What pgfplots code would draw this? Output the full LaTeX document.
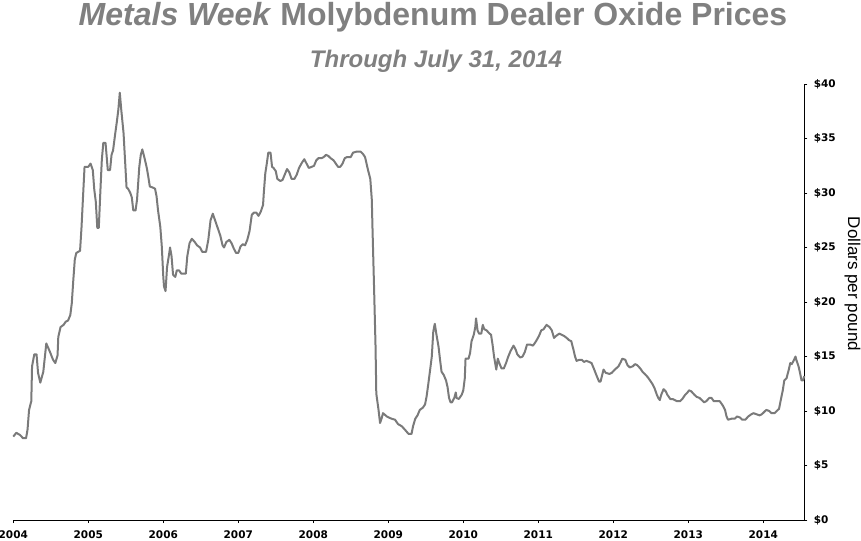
\documentclass[border=0pt]{standalone}
\usepackage{pgfplots}
\pgfplotsset{compat=1.18}
\usepackage{fontspec}
\setmainfont{Liberation Sans}
\newfontfamily\dejavu{DejaVu Sans}
\definecolor{titlegray}{RGB}{128,128,128}
\definecolor{linegray}{RGB}{122,122,122}

\pgfplotstableread{
year price
2004.00 7.65
2004.04 8.0
2004.09 7.8
2004.13 7.5
2004.17 7.5
2004.19 8.3
2004.21 10.1
2004.24 10.9
2004.25 14.1
2004.28 15.2
2004.31 15.2
2004.33 13.5
2004.36 12.6
2004.40 13.6
2004.44 16.2
2004.49 15.4
2004.53 14.7
2004.56 14.4
2004.59 15.1
2004.60 16.8
2004.63 17.7
2004.67 17.9
2004.70 18.2
2004.73 18.3
2004.76 18.8
2004.78 19.9
2004.80 22.0
2004.82 23.9
2004.84 24.5
2004.89 24.7
2004.91 26.9
2004.93 29.7
2004.95 32.4
2005.00 32.4
2005.03 32.7
2005.06 32.1
2005.08 30.3
2005.10 29.2
2005.12 26.8
2005.14 26.8
2005.16 30.0
2005.18 33.0
2005.20 34.6
2005.23 34.6
2005.26 32.1
2005.29 32.1
2005.31 33.5
2005.33 33.9
2005.36 35.5
2005.38 36.5
2005.40 37.6
2005.42 39.2
2005.44 37.6
2005.47 35.5
2005.49 33.0
2005.51 30.5
2005.53 30.4
2005.56 30.0
2005.58 29.6
2005.60 28.4
2005.63 28.4
2005.65 29.4
2005.68 32.4
2005.70 33.5
2005.72 34.0
2005.75 33.2
2005.78 32.3
2005.80 31.5
2005.82 30.6
2005.86 30.5
2005.89 30.4
2005.91 29.7
2005.93 28.4
2005.96 26.9
2005.98 25.1
2006.00 22.3
2006.01 21.4
2006.03 21.0
2006.05 23.2
2006.08 24.5
2006.09 25.0
2006.11 24.2
2006.13 22.5
2006.16 22.3
2006.18 22.9
2006.21 22.9
2006.24 22.6
2006.30 22.6
2006.32 24.2
2006.35 25.4
2006.38 25.8
2006.42 25.5
2006.45 25.2
2006.49 25.0
2006.52 24.6
2006.57 24.6
2006.60 25.7
2006.63 27.5
2006.66 28.1
2006.69 27.5
2006.72 26.9
2006.76 26.1
2006.79 25.2
2006.81 25.0
2006.84 25.5
2006.88 25.7
2006.91 25.4
2006.94 24.9
2006.97 24.5
2007.00 24.5
2007.03 25.1
2007.06 25.3
2007.09 25.2
2007.12 25.7
2007.15 26.5
2007.18 28.0
2007.21 28.2
2007.24 28.2
2007.27 27.9
2007.30 28.3
2007.33 28.9
2007.34 30.0
2007.36 31.8
2007.38 32.7
2007.40 33.7
2007.43 33.7
2007.45 32.4
2007.47 32.3
2007.50 32.0
2007.52 31.3
2007.56 31.1
2007.59 31.2
2007.62 31.7
2007.65 32.2
2007.68 31.9
2007.71 31.3
2007.75 31.3
2007.78 31.7
2007.81 32.3
2007.85 32.8
2007.88 33.1
2007.91 32.7
2007.94 32.3
2007.98 32.4
2008.01 32.5
2008.04 33.0
2008.07 33.2
2008.11 33.2
2008.14 33.3
2008.17 33.5
2008.20 33.4
2008.23 33.2
2008.27 33.0
2008.30 32.7
2008.33 32.4
2008.36 32.4
2008.39 32.7
2008.42 33.2
2008.45 33.3
2008.50 33.3
2008.53 33.7
2008.58 33.8
2008.63 33.8
2008.66 33.6
2008.69 33.3
2008.71 32.7
2008.73 32.1
2008.76 31.3
2008.78 29.4
2008.79 26.6
2008.81 21.4
2008.83 15.9
2008.84 11.6
2008.87 10.1
2008.89 8.9
2008.91 9.3
2008.93 9.8
2008.98 9.5
2009.04 9.3
2009.09 9.2
2009.13 8.8
2009.18 8.6
2009.22 8.3
2009.27 7.9
2009.31 7.9
2009.33 8.6
2009.36 9.3
2009.39 9.6
2009.42 10.1
2009.46 10.3
2009.49 10.6
2009.51 11.3
2009.53 12.3
2009.56 13.9
2009.58 15.0
2009.60 17.3
2009.62 18.0
2009.64 17.1
2009.67 15.9
2009.69 14.7
2009.71 13.6
2009.74 13.3
2009.77 12.8
2009.79 12.2
2009.81 11.2
2009.83 10.8
2009.85 10.8
2009.88 11.2
2009.90 11.7
2009.91 11.2
2009.94 11.1
2009.98 11.5
2010.00 11.9
2010.02 13.0
2010.03 14.8
2010.07 14.8
2010.09 15.3
2010.11 16.4
2010.14 17.0
2010.16 17.7
2010.17 18.5
2010.19 17.4
2010.21 17.1
2010.24 17.1
2010.26 17.9
2010.28 17.5
2010.31 17.4
2010.35 17.1
2010.37 17.0
2010.39 16.1
2010.41 15.0
2010.44 13.8
2010.46 14.8
2010.48 14.4
2010.51 13.9
2010.54 13.9
2010.57 14.4
2010.60 15.0
2010.63 15.5
2010.67 16.0
2010.70 15.6
2010.72 15.2
2010.76 14.9
2010.79 15.0
2010.82 15.4
2010.85 16.1
2010.89 16.1
2010.93 16.0
2010.97 16.4
2011.01 16.9
2011.04 17.4
2011.07 17.5
2011.11 17.9
2011.15 17.7
2011.18 17.4
2011.21 16.7
2011.24 16.9
2011.28 17.1
2011.31 17.0
2011.34 16.9
2011.38 16.7
2011.41 16.5
2011.44 16.4
2011.47 15.6
2011.49 15.0
2011.51 14.6
2011.55 14.7
2011.58 14.7
2011.61 14.5
2011.64 14.6
2011.68 14.5
2011.71 14.4
2011.74 13.9
2011.78 13.2
2011.81 12.7
2011.83 12.7
2011.87 13.8
2011.90 13.5
2011.95 13.4
2011.98 13.5
2012.02 13.8
2012.07 14.1
2012.10 14.5
2012.12 14.8
2012.16 14.7
2012.19 14.2
2012.22 14.0
2012.26 14.1
2012.29 14.3
2012.32 14.2
2012.36 13.9
2012.39 13.6
2012.42 13.4
2012.46 13.1
2012.49 12.8
2012.52 12.5
2012.55 12.1
2012.58 11.5
2012.60 11.2
2012.62 11.0
2012.64 11.5
2012.67 12.0
2012.70 11.8
2012.72 11.5
2012.76 11.1
2012.79 11.1
2012.82 11.0
2012.85 10.9
2012.89 10.9
2012.92 11.1
2012.96 11.5
2012.99 11.7
2013.01 11.9
2013.04 11.8
2013.08 11.5
2013.11 11.3
2013.15 11.2
2013.18 11.0
2013.21 10.8
2013.24 10.9
2013.28 11.2
2013.31 11.2
2013.34 10.9
2013.38 10.9
2013.42 10.9
2013.46 10.5
2013.49 10.1
2013.51 9.5
2013.53 9.2
2013.58 9.3
2013.62 9.3
2013.65 9.5
2013.69 9.4
2013.72 9.2
2013.76 9.2
2013.80 9.5
2013.84 9.7
2013.87 9.8
2013.91 9.7
2013.95 9.6
2013.98 9.7
2014.01 9.9
2014.04 10.1
2014.08 10.0
2014.11 9.8
2014.15 9.8
2014.18 10.0
2014.21 10.2
2014.23 10.9
2014.26 11.9
2014.28 12.8
2014.31 13.0
2014.34 13.8
2014.36 14.4
2014.38 14.3
2014.41 14.7
2014.43 15.0
2014.44 14.7
2014.47 14.1
2014.49 13.5
2014.51 12.8
2014.53 12.8
2014.547 13.2
}\moly

\begin{document}
\begin{tikzpicture}
\useasboundingbox (0,0) rectangle (861bp,541bp);
\begin{axis}[
  at={(13.3bp,21bp)}, anchor=south west,
  scale only axis, width=791bp, height=436bp,
  xmin=2004, xmax=2014.547, ymin=0, ymax=40,
  axis x line*=bottom, axis y line*=right,
  axis line style={black, line width=0.8bp},
  tick align=outside, major tick length=3bp,
  tick style={black, line width=0.8bp},
  xtick={2004,2005,2006,2007,2008,2009,2010,2011,2012,2013,2014},
  xticklabels={2004,2005,2006,2007,2008,2009,2010,2011,2012,2013,2014},
  ytick={0,5,10,15,20,25,30,35,40},
  yticklabels={\$0,\$5,\$10,\$15,\$20,\$25,\$30,\$35,\$40},
  xticklabel style={font=\dejavu\bfseries\fontsize{10.5bp}{12bp}\selectfont, anchor=north, yshift=-4.5bp},
  yticklabel style={font=\dejavu\bfseries\fontsize{10.5bp}{12bp}\selectfont, anchor=west, xshift=3bp},
  clip=false,
]
\addplot[linegray, line width=2bp, line join=round] table[x=year, y=price] {\moly};
\end{axis}
\node[anchor=base, text=titlegray, font=\bfseries\fontsize{32bp}{36bp}\selectfont]
  at (433bp,515bp) {\textit{Metals Week} Molybdenum Dealer Oxide Prices};
\node[anchor=base, text=titlegray, font=\bfseries\itshape\fontsize{24bp}{28bp}\selectfont]
  at (436bp,473bp) {Through July 31, 2014};
\node[rotate=-90, inner sep=0pt, font=\fontsize{17bp}{19bp}\selectfont] at (852.5bp,257bp) {Dollars per pound};
\end{tikzpicture}
\end{document}
